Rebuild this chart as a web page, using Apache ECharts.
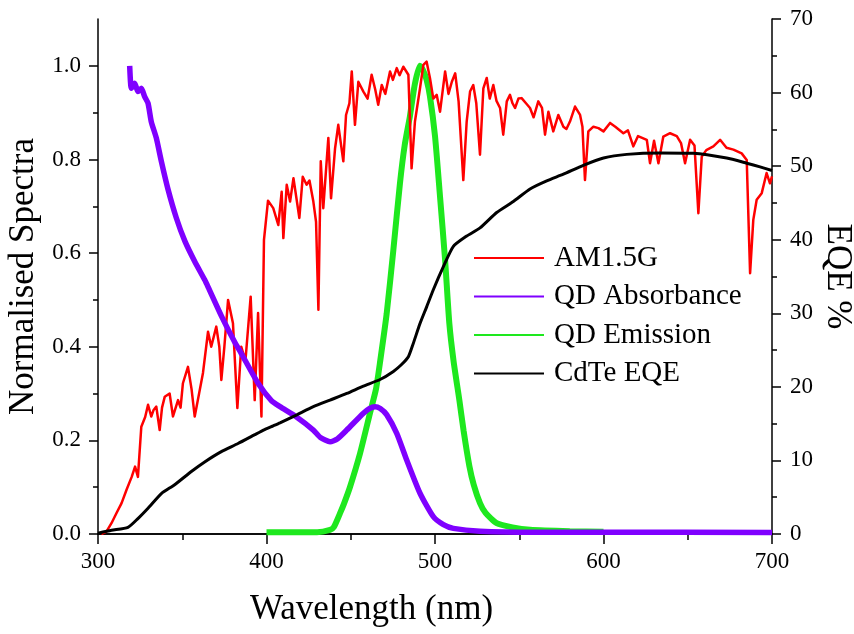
<!DOCTYPE html>
<html>
<head>
<meta charset="utf-8">
<script src="https://cdn.jsdelivr.net/npm/echarts@6/dist/echarts.min.js"></script>
<style>
  html, body { margin: 0; padding: 0; background: #fff; }
  #chart { width: 854px; height: 634px; }
</style>
</head>
<body>
<div id="chart"></div>
<script>
// AM1.5G solar spectrum, normalised (wavelength in nm)
const am15Wavelength = [302, 305, 308, 311, 314, 317, 320, 322, 323.7, 325.7, 328, 329.7, 331.6, 333, 334.6, 336.6, 338, 339.6, 342.5, 344.5, 347.5, 349, 350.4, 353.4, 355.5, 357.4, 360, 362.3, 365.3, 367.2, 370.2, 372, 373.2, 375, 377.2, 380.1, 382.7, 385, 387.5, 390.6, 393, 395, 397, 398.5, 400.9, 404, 407, 409, 410, 412, 414, 416, 419.5, 421.5, 423.8, 425.5, 427.8, 429.4, 430.8, 432.2, 433.7, 436.7, 438.3, 440.7, 442.6, 445.6, 447.2, 449.2, 450.6, 452.5, 454.5, 457.5, 460, 462.4, 464.5, 466.3, 468.4, 470.5, 473.3, 475, 477.3, 479, 481.2, 484.2, 486.1, 488.1, 491.1, 493.1, 495, 497, 499, 501, 503, 506, 508, 510, 512, 514, 516.8, 518.8, 520.8, 522.7, 524.5, 526.7, 528.7, 530.7, 532.5, 534.6, 536.5, 538.6, 540.5, 542.6, 544.5, 546, 547.5, 549.5, 551.4, 554, 556.4, 558.5, 561.3, 563.5, 565.3, 567.3, 570.2, 573.2, 576.2, 578, 580.1, 583.1, 586.1, 587.5, 589, 591, 594, 597, 600, 603.9, 607, 611.8, 614.5, 617.7, 620.5, 625.7, 627.6, 630, 632.6, 635.5, 639.5, 643.5, 646, 648.4, 651.4, 654, 656.3, 658.3, 661, 665.2, 669.2, 673, 677.1, 682, 685, 687, 688.9, 690.9, 693.9, 696.8, 698.8, 700];
const am15Values = [0.0, 0.005, 0.023, 0.045, 0.066, 0.095, 0.122, 0.144, 0.122, 0.229, 0.25, 0.276, 0.251, 0.265, 0.272, 0.222, 0.27, 0.293, 0.30, 0.251, 0.286, 0.27, 0.322, 0.357, 0.31, 0.251, 0.30, 0.344, 0.432, 0.40, 0.443, 0.40, 0.329, 0.40, 0.50, 0.45, 0.269, 0.40, 0.37, 0.507, 0.286, 0.472, 0.251, 0.628, 0.712, 0.696, 0.66, 0.731, 0.632, 0.746, 0.71, 0.76, 0.675, 0.763, 0.746, 0.755, 0.71, 0.667, 0.479, 0.796, 0.696, 0.846, 0.717, 0.824, 0.874, 0.796, 0.895, 0.92, 0.988, 0.874, 0.966, 0.945, 0.93, 0.981, 0.95, 0.917, 0.959, 0.94, 0.988, 0.97, 0.995, 0.98, 0.998, 0.981, 0.781, 0.881, 0.952, 1.002, 1.009, 0.974, 0.93, 0.938, 0.902, 0.988, 0.94, 0.966, 0.984, 0.924, 0.756, 0.881, 0.945, 0.959, 0.92, 0.81, 0.952, 0.974, 0.93, 0.959, 0.925, 0.91, 0.853, 0.924, 0.938, 0.92, 0.91, 0.93, 0.931, 0.92, 0.91, 0.89, 0.924, 0.91, 0.853, 0.902, 0.86, 0.895, 0.87, 0.865, 0.881, 0.913, 0.895, 0.87, 0.756, 0.86, 0.87, 0.867, 0.86, 0.878, 0.87, 0.856, 0.862, 0.828, 0.85, 0.842, 0.792, 0.84, 0.792, 0.849, 0.856, 0.85, 0.835, 0.792, 0.842, 0.83, 0.685, 0.806, 0.82, 0.828, 0.842, 0.825, 0.821, 0.813, 0.799, 0.557, 0.671, 0.714, 0.728, 0.771, 0.749, 0.764];

// Quantum dot absorbance, normalised
const absWavelength = [318.8, 319.3, 319.8, 321.8, 323.7, 325.7, 327.7, 329.7, 331.6, 334.6, 337.6, 341.5, 346.5, 351.5, 357.4, 363.3, 365.3, 373.2, 381.1, 385, 395, 402.9, 408, 417.8, 427.8, 432, 437.7, 442, 447.6, 457.5, 461, 464.4, 467.5, 471.3, 477.3, 483.2, 491.1, 499, 505, 510.9, 526.7, 560, 600, 700];
const absValues = [1.0, 0.965, 0.952, 0.963, 0.945, 0.952, 0.934, 0.92, 0.881, 0.846, 0.796, 0.737, 0.675, 0.626, 0.582, 0.543, 0.528, 0.466, 0.41, 0.386, 0.322, 0.285, 0.272, 0.25, 0.222, 0.206, 0.197, 0.203, 0.222, 0.258, 0.268, 0.272, 0.268, 0.255, 0.215, 0.158, 0.087, 0.037, 0.02, 0.012, 0.006, 0.004, 0.004, 0.003];

// Quantum dot emission, normalised
const emWavelength = [400, 430, 437.7, 440, 443.6, 446, 449.6, 455.5, 461.4, 465, 467.5, 471.3, 475.3, 479.2, 482, 485.1, 488, 491, 493, 495, 497, 500, 503, 506, 508.5, 511, 514.5, 517, 520.4, 523, 526.7, 530, 536.6, 546, 556.4, 580, 600];
const emValues = [0.004, 0.004, 0.009, 0.015, 0.044, 0.065, 0.101, 0.172, 0.258, 0.31, 0.37, 0.47, 0.607, 0.749, 0.83, 0.892, 0.96, 1.0, 0.99, 0.97, 0.935, 0.85, 0.72, 0.585, 0.45, 0.37, 0.285, 0.22, 0.145, 0.105, 0.066, 0.045, 0.023, 0.014, 0.009, 0.006, 0.005];

// CdTe cell external quantum efficiency (%)
const eqeWavelength = [300, 308, 317.8, 323.7, 329.7, 337.6, 345.5, 355.4, 363.3, 373.2, 383.1, 393, 398.9, 404, 408, 418, 427.8, 437.7, 447.6, 457.5, 467.4, 475.3, 480, 484.2, 487.1, 491.1, 495.1, 499, 504.9, 510.9, 518.8, 526.7, 536.6, 546.5, 556.4, 566.3, 576.2, 588, 600, 613.8, 633.5, 653.3, 673.1, 685, 692.9, 700];
const eqeValues = [0.1, 0.5, 0.9, 2.1, 3.5, 5.5, 6.7, 8.5, 9.8, 11.2, 12.3, 13.5, 14.2, 14.7, 15.1, 16.2, 17.3, 18.2, 19.1, 20.1, 21.0, 22.1, 23.0, 24.1, 25.9, 28.6, 30.9, 33.2, 36.3, 39.1, 40.5, 41.6, 43.7, 45.2, 46.9, 48.0, 48.9, 50.1, 51.1, 51.6, 51.8, 51.75, 51.1, 50.4, 49.9, 49.4];

// Axis ticks
const spectraMajorTicks = [0, 0.2, 0.4, 0.6, 0.8, 1.0];
const spectraMinorTicks = [0.1, 0.3, 0.5, 0.7, 0.9];

const seriesNames = ['AM1.5G', 'QD Absorbance', 'QD Emission', 'CdTe EQE'];

const zip = (xs, ys) => xs.map((x, i) => [x, ys[i]]);

const FONT = "'Liberation Serif', 'Times New Roman', serif";
const axisLine = { show: true, lineStyle: { color: '#000', width: 1.5 } };

const chart = echarts.init(document.getElementById('chart'), null, { renderer: 'canvas' });

chart.setOption({
  animation: false,
  backgroundColor: '#fff',
  grid: { left: 98, right: 82, top: 19, bottom: 100, containLabel: false, outerBoundsMode: 'none' },
  legend: {
    data: seriesNames,
    orient: 'vertical',
    left: 473,
    top: 243,
    itemWidth: 70,
    itemHeight: 30,
    itemGap: 8.5,
    padding: 0,
    itemStyle: { opacity: 0 },
    textStyle: { fontFamily: FONT, fontSize: 29, lineHeight: 30, color: '#000', padding: [0, 0, 0, 5] }
  },
  xAxis: [
    {
      type: 'value', position: 'bottom', min: 300, max: 700, interval: 100,
      axisLine,
      axisTick: { show: true, inside: false, length: 9, lineStyle: { color: '#000', width: 1.5 } },
      minorTick: { show: true, splitNumber: 2, length: 5, lineStyle: { color: '#000', width: 1.5 } },
      axisLabel: { fontFamily: FONT, fontSize: 23, color: '#000', margin: 16 },
      splitLine: { show: false },
      name: 'Wavelength (nm)', nameLocation: 'middle', nameGap: 58,
      nameTextStyle: { fontFamily: FONT, fontSize: 35, color: '#000', padding: [0, 127, 0, 0] }
    },
    {
      type: 'value', position: 'top', min: 300, max: 700, interval: 100,
      axisLine,
      axisTick: { show: true, inside: true, length: 10, lineStyle: { color: '#000', width: 1.5 } },
      minorTick: { show: true, splitNumber: 2, length: 6, lineStyle: { color: '#000', width: 1.5 } },
      axisLabel: { show: false },
      splitLine: { show: false }
    }
  ],
  yAxis: [
    {
      type: 'value', position: 'left', min: 0, max: 1.1,
      axisLine,
      axisTick: { show: true, inside: false, length: 9, customValues: spectraMajorTicks, lineStyle: { color: '#000', width: 1.5 } },
      axisLabel: { fontFamily: FONT, fontSize: 23, color: '#000', margin: 17, customValues: spectraMajorTicks,
        formatter: v => v.toFixed(1) },
      splitLine: { show: false },
      name: 'Normalised Spectra', nameLocation: 'middle', nameGap: 52,
      nameTextStyle: { fontFamily: FONT, fontSize: 35, color: '#000' }
    },
    {
      type: 'value', position: 'left', min: 0, max: 1.1,
      axisLine: { show: false },
      axisTick: { show: true, inside: false, length: 5, customValues: spectraMinorTicks, lineStyle: { color: '#000', width: 1.5 } },
      axisLabel: { show: false },
      splitLine: { show: false }
    },
    {
      type: 'value', position: 'right', min: 0, max: 70, interval: 10,
      axisLine,
      axisTick: { show: true, inside: false, length: 9, lineStyle: { color: '#000', width: 1.5 } },
      minorTick: { show: true, splitNumber: 2, length: 5, lineStyle: { color: '#000', width: 1.5 } },
      axisLabel: { fontFamily: FONT, fontSize: 23, color: '#000', margin: 18 },
      splitLine: { show: false },
      name: 'EQE %', nameLocation: 'middle', nameGap: 48, nameRotate: -90, nameMoveOverlap: false,
      nameTextStyle: { fontFamily: FONT, fontSize: 35, color: '#000' }
    }
  ],
  series: [
    {
      name: 'QD Emission', type: 'line', xAxisIndex: 0, yAxisIndex: 0,
      data: zip(emWavelength, emValues), symbol: 'none', smooth: 0.2, z: 2,
      lineStyle: { color: '#1ee81e', width: 6 }, itemStyle: { color: '#1ee81e' }
    },
    {
      name: 'AM1.5G', type: 'line', xAxisIndex: 0, yAxisIndex: 0,
      data: zip(am15Wavelength, am15Values), symbol: 'none', z: 3,
      lineStyle: { color: '#ff0000', width: 2.5, join: 'round' }, itemStyle: { color: '#ff0000' }
    },
    {
      name: 'QD Absorbance', type: 'line', xAxisIndex: 0, yAxisIndex: 0,
      data: zip(absWavelength, absValues), symbol: 'none', smooth: 0.2, z: 4,
      lineStyle: { color: '#7f00ff', width: 5.5 }, itemStyle: { color: '#7f00ff' }
    },
    {
      name: 'CdTe EQE', type: 'line', xAxisIndex: 0, yAxisIndex: 2,
      data: zip(eqeWavelength, eqeValues), symbol: 'none', smooth: 0.2, z: 5,
      lineStyle: { color: '#000000', width: 3 }, itemStyle: { color: '#000000' }
    }
  ]
});
</script>
</body>
</html>
